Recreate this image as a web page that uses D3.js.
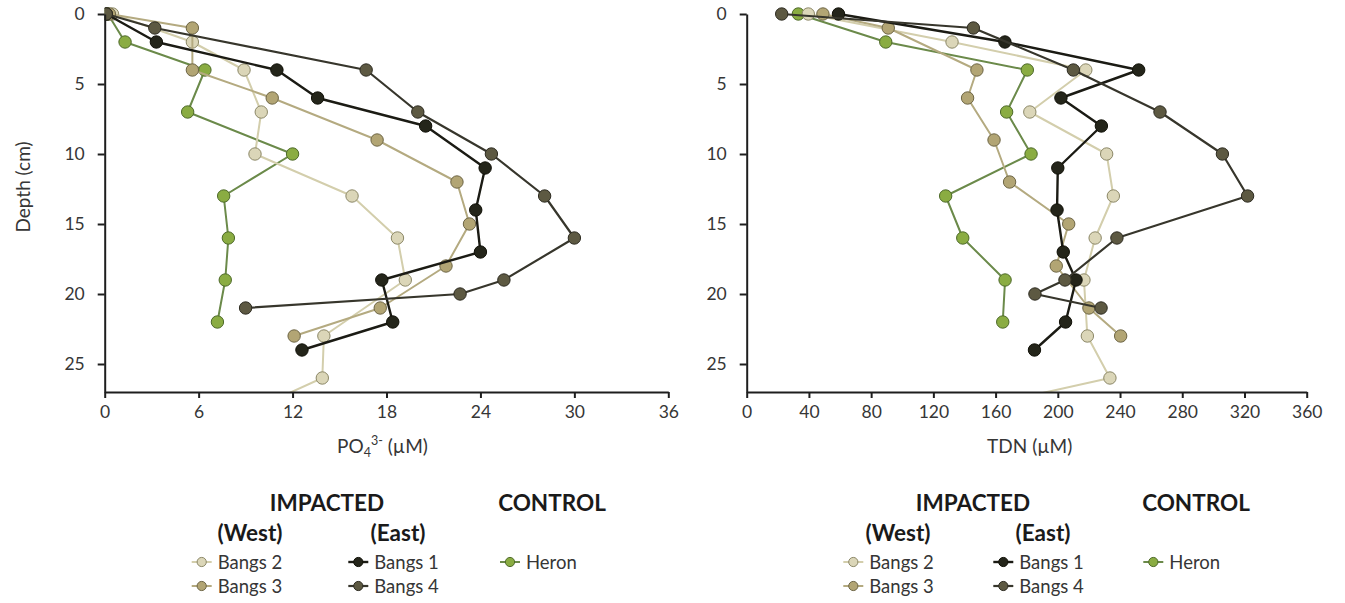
<!DOCTYPE html>
<html>
<head>
<meta charset="utf-8">
<script src="https://cdn.jsdelivr.net/npm/d3@7"></script>
<style>
  html, body { margin: 0; padding: 0; background: #fff; }
  svg { display: block; font-family: Lato, "Open Sans", sans-serif; }
</style>
</head>
<body>
<svg id="chart" width="1345" height="603"></svg>
<script>
// Sampling depths (cm) for each core
const depthBangs1 = [0, 2, 4, 6, 8, 11, 14, 17, 19, 22, 24];
const depthBangs2 = [0, 2, 4, 7, 10, 13, 16, 19, 23, 26, 29];
const depthBangs3 = [0, 1, 4, 6, 9, 12, 15, 18, 21, 23];
const depthBangs4 = [0, 1, 4, 7, 10, 13, 16, 19, 20, 21];
const depthHeron  = [0, 2, 4, 7, 10, 13, 16, 19, 22];

// Porewater phosphate, PO4 3- (µM)
const po4Bangs1 = [0.1, 3.3, 11.0, 13.6, 20.5, 24.3, 23.7, 24.0, 17.7, 18.4, 12.6];
const po4Bangs2 = [0.5, 5.6, 8.9, 10.0, 9.6, 15.8, 18.7, 19.2, 14.0, 13.9, 8.0];
const po4Bangs3 = [0.3, 5.6, 5.6, 10.7, 17.4, 22.5, 23.3, 21.8, 17.6, 12.1];
const po4Bangs4 = [0.1, 3.2, 16.7, 20.0, 24.7, 28.1, 30.0, 25.5, 22.7, 9.0];
const po4Heron  = [0.2, 1.3, 6.4, 5.3, 12.0, 7.6, 7.9, 7.7, 7.2];

// Total dissolved nitrogen, TDN (µM)
const tdnBangs1 = [59, 166, 252, 202, 228, 200, 199.5, 203.5, 211.7, 205, 185];
const tdnBangs2 = [39.6, 132, 218, 182, 231.4, 235.7, 224, 216.8, 219, 233.5, 112];
const tdnBangs3 = [49, 91, 148, 142, 159, 169, 207, 199, 220, 240.4];
const tdnBangs4 = [22.5, 145.7, 210, 265.7, 305.8, 322, 238, 204.6, 185.3, 227.8];
const tdnHeron  = [33.2, 89.4, 180.4, 167.1, 182.8, 127.9, 138.9, 166.1, 164.6];

// Axis ticks
const depthTicks = [0, 5, 10, 15, 20, 25];
const po4Ticks = [0, 6, 12, 18, 24, 30, 36];
const tdnTicks = [0, 40, 80, 120, 160, 200, 240, 280, 320, 360];

// Site names (drawing order) and series styling
const siteNames = ["Heron", "Bangs 2", "Bangs 3", "Bangs 1", "Bangs 4"];
const siteFill   = { "Bangs 2": "#dbd6b8", "Bangs 3": "#b2a574", "Bangs 1": "#24251a", "Bangs 4": "#5d5942", "Heron": "#8aac42" };
const siteLine   = { "Bangs 2": "#d3ceac", "Bangs 3": "#b4aa80", "Bangs 1": "#1b1b14", "Bangs 4": "#37362c", "Heron": "#6b8a4a" };
const siteStroke = { "Bangs 2": "#8c8868", "Bangs 3": "#6e6646", "Bangs 1": "#111108", "Bangs 4": "#2e2c22", "Heron": "#4e6a2a" };
const siteWidth  = { "Bangs 2": 2, "Bangs 3": 2, "Bangs 1": 2.4, "Bangs 4": 2.2, "Heron": 2 };

const depths = { "Bangs 1": depthBangs1, "Bangs 2": depthBangs2, "Bangs 3": depthBangs3, "Bangs 4": depthBangs4, "Heron": depthHeron };
const po4 = { "Bangs 1": po4Bangs1, "Bangs 2": po4Bangs2, "Bangs 3": po4Bangs3, "Bangs 4": po4Bangs4, "Heron": po4Heron };
const tdn = { "Bangs 1": tdnBangs1, "Bangs 2": tdnBangs2, "Bangs 3": tdnBangs3, "Bangs 4": tdnBangs4, "Heron": tdnHeron };

const svg = d3.select("#chart");
const textColor = "#363636";
const axisColor = "#1e1e1e";

const yTop = 14, yBottom = 392;

const panels = [
  { id: "po4", values: po4, x0: 104.7, x1: 668.3, max: 36, ticks: po4Ticks, yTitle: true,
    legend: { impacted: 327, control: 552, west: 250, east: 398, col: [201.7, 358.3, 510] } },
  { id: "tdn", values: tdn, x0: 746.7, x1: 1306.7, max: 360, ticks: tdnTicks, yTitle: false,
    legend: { impacted: 973, control: 1196, west: 898, east: 1043, col: [853.3, 1003.3, 1153.3] } }
];

panels.forEach(p => {
  const x = d3.scaleLinear().domain([0, p.max]).range([p.x0, p.x1]);
  const y = d3.scaleLinear().domain([0, 27]).range([yTop, yBottom]);
  const g = svg.append("g");

  g.append("clipPath").attr("id", "clip-" + p.id)
    .append("rect").attr("x", p.x0).attr("y", yTop - 10)
    .attr("width", p.x1 - p.x0 + 10).attr("height", yBottom - yTop + 10);

  // series: line then markers
  const plot = g.append("g").attr("clip-path", `url(#clip-${p.id})`);
  const line = d3.line().x(d => x(d.v)).y(d => y(d.d));
  siteNames.forEach(name => {
    const pts = depths[name].map((d, i) => ({ d: d, v: p.values[name][i] }));
    const sg = plot.append("g");
    sg.append("path").datum(pts).attr("d", line)
      .attr("fill", "none").attr("stroke", siteLine[name])
      .attr("stroke-width", siteWidth[name]).attr("stroke-linejoin", "round");
    sg.selectAll("circle").data(pts.filter(q => q.d <= 27)).join("circle")
      .attr("cx", q => x(q.v)).attr("cy", q => y(q.d)).attr("r", 6.2)
      .attr("fill", siteFill[name]).attr("stroke", siteStroke[name]).attr("stroke-width", 1);
  });

  // axes
  const yAxis = g.append("g").attr("transform", `translate(${p.x0},0)`)
    .call(d3.axisLeft(y).tickValues(depthTicks).tickSize(7).tickSizeOuter(0).tickPadding(13));
  const xAxis = g.append("g").attr("transform", `translate(0,${yBottom})`)
    .call(d3.axisBottom(x).tickValues(p.ticks).tickSize(6).tickSizeOuter(0).tickPadding(8));
  [yAxis, xAxis].forEach(a => {
    a.select(".domain").attr("stroke", axisColor).attr("stroke-width", 2);
    a.selectAll(".tick line").attr("stroke", axisColor).attr("stroke-width", 2);
    a.selectAll(".tick text").attr("fill", textColor).style("font-size", "17.5px")
      .style("font-family", "Lato, 'Open Sans', sans-serif");
  });

  // axis titles
  const cx = (p.x0 + p.x1) / 2;
  if (p.id === "po4") {
    const t = g.append("text").attr("x", cx - 4).attr("y", 453).attr("text-anchor", "middle")
      .attr("fill", textColor).style("font-size", "19px");
    t.append("tspan").text("PO");
    t.append("tspan").text("4").attr("dy", 4).style("font-size", "12.5px");
    t.append("tspan").text("3-").attr("dy", -12).style("font-size", "12.5px");
    t.append("tspan").text(" (µM)").attr("dy", 8);
  } else {
    g.append("text").attr("x", cx + 3).attr("y", 453).attr("text-anchor", "middle")
      .attr("fill", textColor).style("font-size", "19px").text("TDN (µM)");
  }
  if (p.yTitle) {
    g.append("text").attr("transform", `translate(30,${187}) rotate(-90)`)
      .attr("text-anchor", "middle").attr("fill", textColor).style("font-size", "19px")
      .text("Depth (cm)");
  }

  // legend
  const L = p.legend;
  const lg = g.append("g");
  const header = (txt, xx, yy) => lg.append("text").attr("x", xx).attr("y", yy)
    .attr("text-anchor", "middle").attr("fill", "#1a1a1a")
    .style("font-size", "22.5px").style("font-weight", "bold").text(txt);
  header("IMPACTED", L.impacted, 511);
  header("CONTROL", L.control, 511);
  header("(West)", L.west, 541);
  header("(East)", L.east, 541);

  const entries = [
    { name: "Bangs 2", col: 0, row: 0 },
    { name: "Bangs 3", col: 0, row: 1 },
    { name: "Bangs 1", col: 1, row: 0 },
    { name: "Bangs 4", col: 1, row: 1 },
    { name: "Heron",   col: 2, row: 0 }
  ];
  entries.forEach(e => {
    const mx = L.col[e.col];
    const my = 562 + e.row * 24;
    lg.append("line").attr("x1", mx - 10).attr("x2", mx + 10).attr("y1", my).attr("y2", my)
      .attr("stroke", siteLine[e.name]).attr("stroke-width", siteWidth[e.name]);
    lg.append("circle").attr("cx", mx).attr("cy", my).attr("r", 4.6)
      .attr("fill", siteFill[e.name]).attr("stroke", siteStroke[e.name]).attr("stroke-width", 1);
    lg.append("text").attr("x", mx + 16).attr("y", my + 6.5).attr("fill", textColor)
      .style("font-size", "18.5px").text(e.name);
  });
});
</script>
</body>
</html>
